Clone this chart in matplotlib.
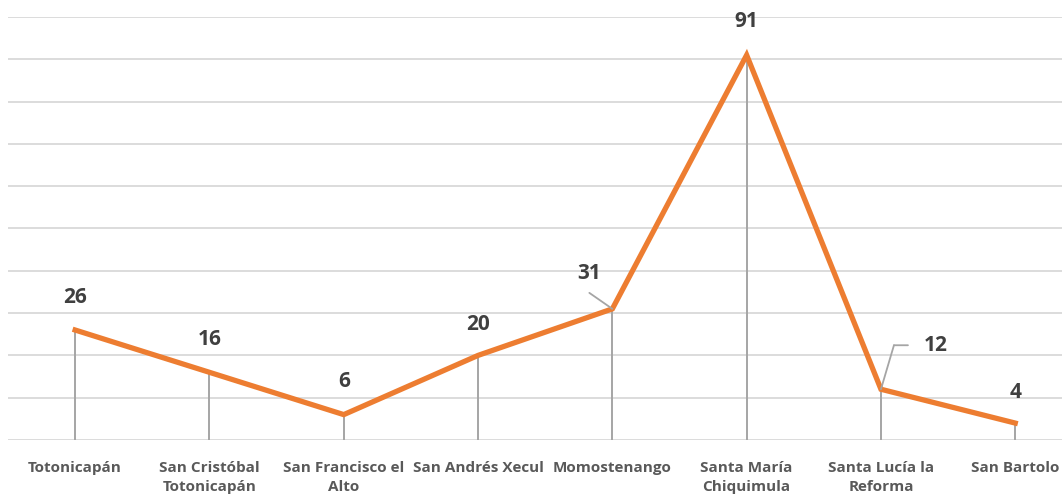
"""Line chart of values by municipality (Totonicapán)."""

import matplotlib

matplotlib.use("Agg")
import matplotlib.pyplot as plt
from matplotlib.transforms import offset_copy

categories = [
    "Totonicapán",
    "San Cristóbal\nTotonicapán",
    "San Francisco el\nAlto",
    "San Andrés Xecul",
    "Momostenango",
    "Santa María\nChiquimula",
    "Santa Lucía la\nReforma",
    "San Bartolo",
]
values = [26, 16, 6, 20, 31, 91, 12, 4]

ORANGE = "#ED7D31"
GRID = "#D9D9D9"
DROP = "#A5A5A5"
LABEL = "#404040"
TICK = "#595959"
FONT = "Open Sans"

W, H, DPI = 1062, 495, 100
fig = plt.figure(figsize=(W / DPI, H / DPI), dpi=DPI)
ax = fig.add_axes([8 / W, 55 / H, 1054 / W, 423 / H])

x = list(range(len(values)))
ax.set_xlim(-0.5, -0.5 + 1054 / 134.3)
ax.set_ylim(0, 100)

for y in range(0, 101, 10):
    ax.axhline(y, color=GRID, lw=1.3, zorder=0)

ax.vlines(x, 0, values, color=DROP, lw=1.4, zorder=1)
ax.plot(x, values, color=ORANGE, lw=3.8, solid_joinstyle="miter", zorder=3)

# label offsets in pixels (dx, dy) relative to each point
offsets = [(0, 33), (0, 33), (0, 33), (0, 31), (-23, 35), (0, 34), (55, 44), (0, 31)]
for xi, v, (dx, dy) in zip(x, values, offsets):
    ax.annotate(str(v), (xi, v), xytext=(dx, dy), textcoords="offset pixels",
                ha="center", va="center", fontsize=15, fontweight="bold",
                color=LABEL, family=FONT, zorder=4)

# leader lines
ax.annotate("", xy=(4, values[4]), xytext=(-23, 16), textcoords="offset pixels",
            arrowprops=dict(arrowstyle="-", color=DROP, lw=1.3, shrinkA=0, shrinkB=0))
ax.annotate("", xy=(6, values[6]), xytext=(13, 44), textcoords="offset pixels",
            arrowprops=dict(arrowstyle="-", color=DROP, lw=1.3, shrinkA=0, shrinkB=0))
ax.annotate("", xy=(6, values[6]), xycoords=offset_copy(ax.transData, fig, 13, 44, units="dots"),
            xytext=(6, values[6]), textcoords=offset_copy(ax.transData, fig, 27, 44, units="dots"),
            arrowprops=dict(arrowstyle="-", color=DROP, lw=1.3, shrinkA=0, shrinkB=0))

ax.set_xticks(x)
ax.set_xticklabels(categories, fontsize=11, fontweight="bold", color=TICK,
                   family=FONT, linespacing=1.5)
ax.tick_params(axis="x", length=0, pad=15)
ax.set_yticks([])
for s in ax.spines.values():
    s.set_visible(False)

fig.savefig("out.png", dpi=DPI)
